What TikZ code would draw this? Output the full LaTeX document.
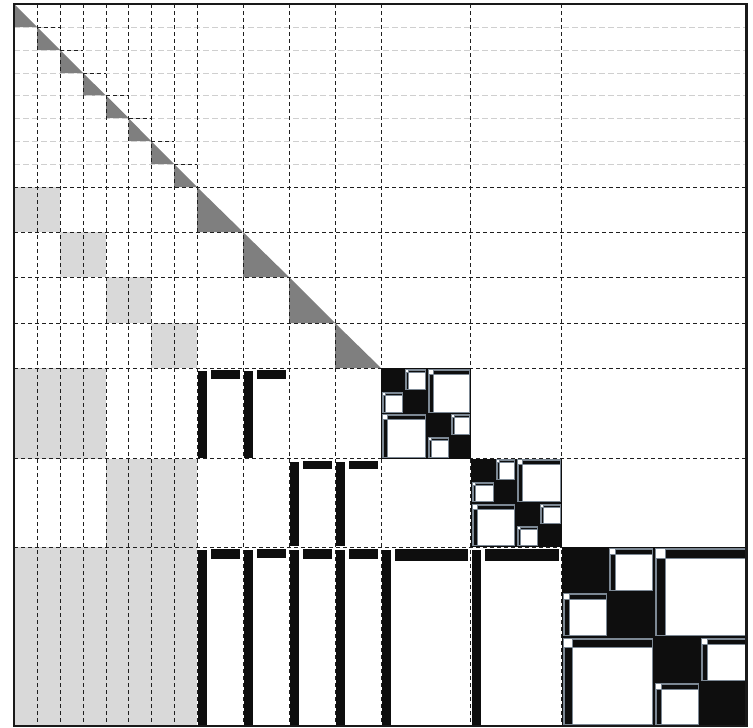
\documentclass[tikz,border=0pt]{standalone}
\usetikzlibrary{calc}
\definecolor{triG}{HTML}{7F7F7F}
\definecolor{lightG}{HTML}{D9D9D9}
\definecolor{dashLG}{HTML}{CFCFCF}
\definecolor{denseK}{HTML}{0E0E0E}
\definecolor{boxLine}{HTML}{7C8894}
\tikzset{
  tri/.style={fill=triG},
  lgfill/.style={fill=lightG},
  bdash/.style={draw=black!88, line width=1pt, dash pattern=on 4pt off 3pt},
  lgdash/.style={draw=dashLG, line width=1pt, dash pattern=on 6pt off 3pt},
  dense/.style={fill=denseK},
  factor/.style={fill=denseK, draw=boxLine, line width=0.5pt},
  lrwhite/.style={fill=white, draw=boxLine, line width=0.6pt},
  frame/.style={draw=black!90, line width=2.5pt}
}
% low-rank block inside a dense diagonal region: white box with an L of factors
\newcommand\lowrank[5]{%
  \coordinate (LA) at ($(p#1 |- p#2)+(1.5,1)$);
  \coordinate (LB) at ($(p#3 |- p#4)+(-1.5,-1.5)$);
  \filldraw[lrwhite] (LA) rectangle (LB);
  \filldraw[factor] ($(LA)+(0.8,#5+1)$) rectangle ($(LA |- LB)+(#5+0.8,0)$);
  \filldraw[factor] ($(LA)+(#5+1,0.8)$) rectangle ($(LB |- LA)+(0,#5+0.8)$);
}
% far-field low-rank block: just the two factor bars
\newcommand\farblock[5]{%
  \fill[dense] ($(p#1 |- p#2)+(1,3)$) rectangle ($(p#1 |- p#4)+(10,-1)$);
  \fill[dense] ($(p#1 |- p#2)+(14,2)$) rectangle ($(p#3 |- p#2)+(-3,#5)$);
}
\begin{document}
\begin{tikzpicture}[x=1pt,y=-1pt]
\useasboundingbox (0,0) rectangle (753,728);
\fill[white] (0,0) rectangle (753,728);
% grid points (column i, row i)
\coordinate (p0) at (14,4);
\coordinate (p1) at (37,27);
\coordinate (p2) at (60,50);
\coordinate (p3) at (83,73);
\coordinate (p4) at (106,95.5);
\coordinate (p5) at (128.5,118);
\coordinate (p6) at (151,141);
\coordinate (p7) at (174,164);
\coordinate (p8) at (197,187);
\coordinate (p9) at (220,209.5);
\coordinate (p10) at (243,232);
\coordinate (p11) at (266,254.5);
\coordinate (p12) at (289,277);
\coordinate (p13) at (312,300);
\coordinate (p14) at (335,323);
\coordinate (p15) at (358,345.5);
\coordinate (p16) at (381,368);
\coordinate (p17) at (404,391);
\coordinate (p18) at (426.5,413.5);
\coordinate (p19) at (450,436);
\coordinate (p20) at (470.5,458.5);
\coordinate (p21) at (494.5,481);
\coordinate (p22) at (516,503);
\coordinate (p23) at (539,525);
\coordinate (p24) at (561.5,547);
\coordinate (p25) at (585,569.5);
\coordinate (p26) at (608,592);
\coordinate (p27) at (631,614.5);
\coordinate (p28) at (654,637);
\coordinate (p29) at (677,659.5);
\coordinate (p30) at (700,682);
\coordinate (p31) at (723.5,704);
\coordinate (p32) at (746.5,726);

% light grey blocks
\fill[lgfill] (p0 |- p8) rectangle (p2 |- p10);
\fill[lgfill] (p2 |- p10) rectangle (p4 |- p12);
\fill[lgfill] (p4 |- p12) rectangle (p6 |- p14);
\fill[lgfill] (p6 |- p14) rectangle (p8 |- p16);
\fill[lgfill] (p0 |- p16) rectangle (p4 |- p20);
\fill[lgfill] (p4 |- p20) rectangle (p8 |- p24);
\fill[lgfill] (p0 |- p24) rectangle (p8 |- p32);

% grey triangles on the diagonal
\foreach \i/\j in {0/1,1/2,2/3,3/4,4/5,5/6,6/7,7/8,8/10,10/12,12/14,14/16}
  \fill[tri] (p\i) -- (p\i |- p\j) -- (p\j) -- cycle;

% light grey dashed row lines
\foreach \i in {1,2,3,4,5,6,7}
  \draw[lgdash] (p0 |- p\i) -- (p32 |- p\i);
% black dashed column lines
\foreach \i in {1,2,3,4,5,6,7,8,10,12,14,16,20,24}
  \draw[bdash] (p\i |- p0) -- (p\i |- p32);
% black dashed row lines
\foreach \i in {8,10,12,14,16,20,24}
  \draw[bdash] (p0 |- p\i) -- (p32 |- p\i);
% black dashed tops of the small diagonal cells
\foreach \i/\j in {1/2,2/3,3/4,4/5,5/6,6/7,7/8}
  \draw[bdash] (p\i) -- (p\j |- p\i);

% far-field low-rank blocks
\farblock{8}{16}{10}{20}{11}
\farblock{10}{16}{12}{20}{11}
\farblock{12}{20}{14}{24}{10}
\farblock{14}{20}{16}{24}{10}
\farblock{8}{24}{10}{32}{12}
\farblock{10}{24}{12}{32}{11}
\farblock{12}{24}{14}{32}{12}
\farblock{14}{24}{16}{32}{12}
\farblock{16}{24}{20}{32}{14}
\farblock{20}{24}{24}{32}{14}

% dense diagonal block A
\fill[dense] (p16) rectangle (p20);
\lowrank{18}{16}{20}{18}{4}
\lowrank{16}{18}{18}{20}{4}
\lowrank{17}{16}{18}{17}{2}
\lowrank{16}{17}{17}{18}{2}
\lowrank{19}{18}{20}{19}{2}
\lowrank{18}{19}{19}{20}{2}
% dense diagonal block B
\fill[dense] (p20) rectangle (p24);
\lowrank{22}{20}{24}{22}{4}
\lowrank{20}{22}{22}{24}{4}
\lowrank{21}{20}{22}{21}{2}
\lowrank{20}{21}{21}{22}{2}
\lowrank{23}{22}{24}{23}{2}
\lowrank{22}{23}{23}{24}{2}
% dense diagonal block C
\fill[dense] (p24) rectangle (p32);
\lowrank{28}{24}{32}{28}{9}
\lowrank{24}{28}{28}{32}{8}
\lowrank{26}{24}{28}{26}{5}
\lowrank{24}{26}{26}{28}{5}
\lowrank{30}{28}{32}{30}{5}
\lowrank{28}{30}{30}{32}{5}

% frame
\draw[frame] (p0) rectangle (p32);
\end{tikzpicture}
\end{document}
